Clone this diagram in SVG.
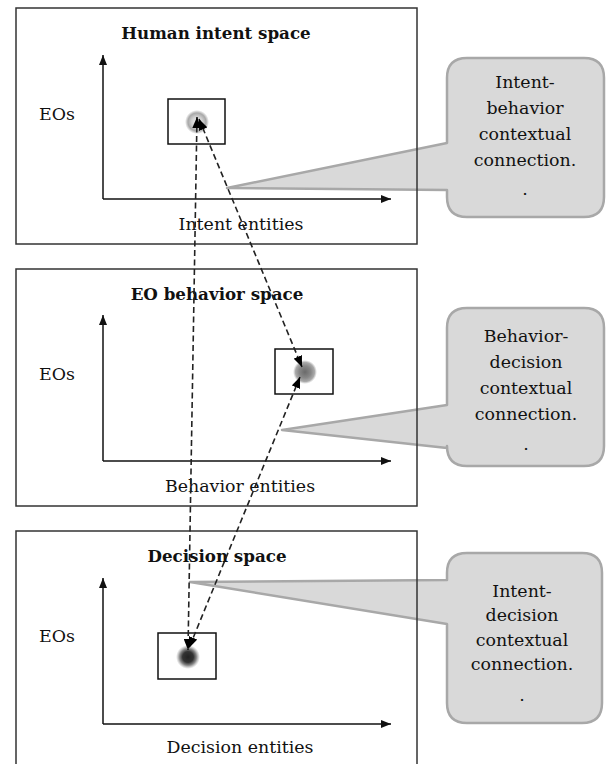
<svg xmlns="http://www.w3.org/2000/svg" width="611" height="764" viewBox="0 0 611 764">
  <style>
    .frame { fill: none; stroke: #333; stroke-width: 1.5; }
    .axis { fill: none; stroke: #111; stroke-width: 1.5; }
    .spot { fill: none; stroke: #111; stroke-width: 1.5; }
    .callout { fill: #d9d9d9; stroke: #a8a8a8; stroke-width: 2.5; stroke-linejoin: round; }
    .title { font-family: "DejaVu Serif", "Liberation Serif", serif; font-weight: bold; font-size: 16.7px; fill: #111; text-anchor: middle; }
    .lbl { font-family: "DejaVu Serif", "Liberation Serif", serif; font-size: 17.4px; fill: #111; }
    .mid { text-anchor: middle; }
    .link { fill: none; stroke: #222; stroke-width: 1.6; stroke-dasharray: 6 3.5; }
  </style>
  <defs>
    <marker id="axisHead" viewBox="0 0 10 8" refX="10" refY="4" markerWidth="10" markerHeight="8" markerUnits="userSpaceOnUse" orient="auto">
      <path d="M0,0 L10,4 L0,8 Z" fill="#111"/>
    </marker>
    <marker id="linkHead" viewBox="0 0 11 9" refX="11" refY="4.5" markerWidth="11" markerHeight="9" markerUnits="userSpaceOnUse" orient="auto-start-reverse">
      <path d="M0,0 L11,4.5 L0,9 Z" fill="#000"/>
    </marker>
    <radialGradient id="lightSpot">
      <stop offset="0" stop-color="#f0f0f0"/>
      <stop offset="0.45" stop-color="#d0d0d0"/>
      <stop offset="0.75" stop-color="#a8a8a8"/>
      <stop offset="1" stop-color="#a8a8a8" stop-opacity="0"/>
    </radialGradient>
    <radialGradient id="midSpot">
      <stop offset="0" stop-color="#6a6a6a"/>
      <stop offset="0.5" stop-color="#888"/>
      <stop offset="0.8" stop-color="#aaa"/>
      <stop offset="1" stop-color="#bbb" stop-opacity="0"/>
    </radialGradient>
    <radialGradient id="darkSpot">
      <stop offset="0" stop-color="#222"/>
      <stop offset="0.45" stop-color="#333"/>
      <stop offset="0.7" stop-color="#888"/>
      <stop offset="1" stop-color="#aaa" stop-opacity="0"/>
    </radialGradient>
  </defs>

  <rect width="611" height="764" fill="#fff"/>

  <!-- speech-bubble callouts -->
  <g id="callout-intent-behavior">
    <path class="callout" d="M467,58 H584 Q604,58 604,78 V197 Q604,217 584,217 H467 Q447,217 447,197 V190 L227,188 L447,143 V78 Q447,58 467,58 Z"/>
    <text class="lbl mid" x="525" y="88">Intent-</text>
    <text class="lbl mid" x="525" y="114">behavior</text>
    <text class="lbl mid" x="525" y="140">contextual</text>
    <text class="lbl mid" x="525" y="166">connection.</text>
    <text class="lbl mid" x="525" y="195">.</text>
  </g>
  <g id="callout-behavior-decision">
    <path class="callout" d="M467,308 H584 Q604,308 604,328 V446 Q604,466 584,466 H467 Q447,466 447,446 V448 L282,430 L447,405 V328 Q447,308 467,308 Z"/>
    <text class="lbl mid" x="526" y="342">Behavior-</text>
    <text class="lbl mid" x="526" y="368">decision</text>
    <text class="lbl mid" x="526" y="394">contextual</text>
    <text class="lbl mid" x="526" y="420">connection.</text>
    <text class="lbl mid" x="526" y="450">.</text>
  </g>
  <g id="callout-intent-decision">
    <path class="callout" d="M467,553 H582 Q602,553 602,573 V703 Q602,723 582,723 H467 Q447,723 447,703 V624 L190,582 L447,580 V573 Q447,553 467,553 Z"/>
    <text class="lbl mid" x="522" y="597">Intent-</text>
    <text class="lbl mid" x="522" y="621">decision</text>
    <text class="lbl mid" x="522" y="646">contextual</text>
    <text class="lbl mid" x="522" y="670">connection.</text>
    <text class="lbl mid" x="522" y="701">.</text>
  </g>

  <!-- space panels -->
  <g id="human-intent-space">
    <rect class="frame" x="16" y="8" width="401" height="236"/>
    <text class="title" x="216" y="39">Human intent space</text>
    <line class="axis" x1="103" y1="199" x2="103" y2="55" marker-end="url(#axisHead)"/>
    <line class="axis" x1="103" y1="199" x2="391" y2="199" marker-end="url(#axisHead)"/>
    <text class="lbl" x="39" y="120">EOs</text>
    <text class="lbl mid" x="241" y="230">Intent entities</text>
    <circle cx="197" cy="122" r="12" fill="url(#lightSpot)"/>
    <rect class="spot" x="168" y="99" width="57" height="45"/>
  </g>
  <g id="eo-behavior-space">
    <rect class="frame" x="16" y="269" width="401" height="237"/>
    <text class="title" x="217" y="300">EO behavior space</text>
    <line class="axis" x1="103" y1="461" x2="103" y2="315" marker-end="url(#axisHead)"/>
    <line class="axis" x1="103" y1="461" x2="391" y2="461" marker-end="url(#axisHead)"/>
    <text class="lbl" x="39" y="380">EOs</text>
    <text class="lbl mid" x="240" y="492">Behavior entities</text>
    <circle cx="305" cy="372" r="12" fill="url(#midSpot)"/>
    <rect class="spot" x="275" y="349" width="58" height="45"/>
  </g>
  <g id="decision-space">
    <rect class="frame" x="16" y="531" width="401" height="240"/>
    <text class="title" x="217" y="562">Decision space</text>
    <line class="axis" x1="103" y1="724" x2="103" y2="578" marker-end="url(#axisHead)"/>
    <line class="axis" x1="103" y1="724" x2="391" y2="724" marker-end="url(#axisHead)"/>
    <text class="lbl" x="39" y="642">EOs</text>
    <text class="lbl mid" x="240" y="753">Decision entities</text>
    <circle cx="188" cy="657" r="12" fill="url(#darkSpot)"/>
    <rect class="spot" x="158" y="633" width="58" height="46"/>
  </g>

  <!-- contextual connections between spaces -->
  <g id="connectors">
    <line class="link" x1="197" y1="117" x2="188" y2="650" marker-start="url(#linkHead)" marker-end="url(#linkHead)"/>
    <line class="link" x1="199" y1="119" x2="302" y2="367" marker-start="url(#linkHead)" marker-end="url(#linkHead)"/>
    <line class="link" x1="300" y1="377" x2="189" y2="648" marker-start="url(#linkHead)" marker-end="url(#linkHead)"/>
  </g>
</svg>
